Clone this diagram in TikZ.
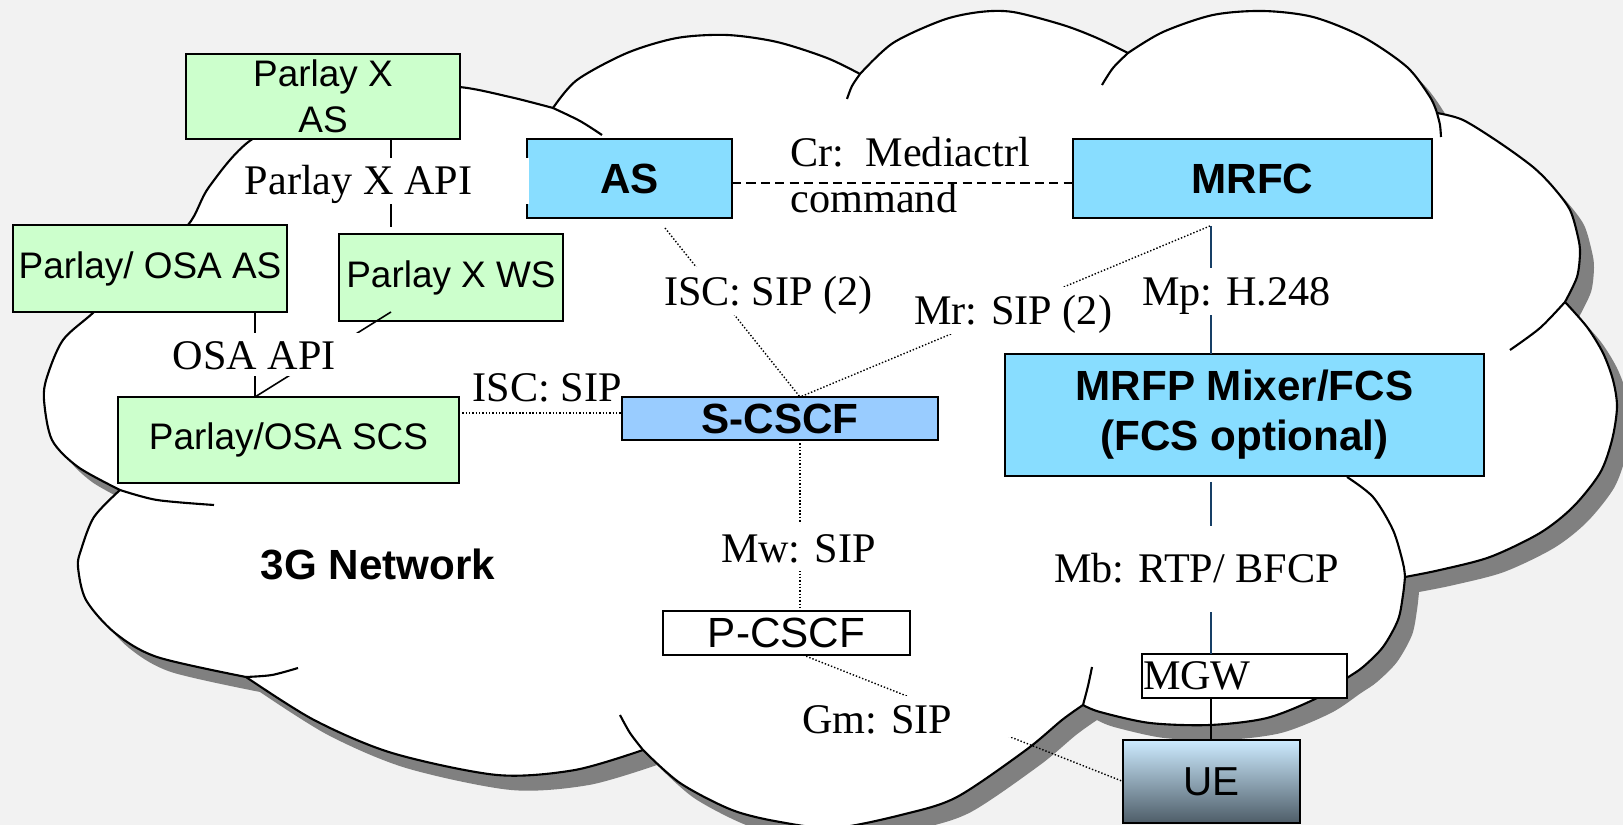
\documentclass[tikz,border=0pt]{standalone}
\usepackage{fontspec}
\setmainfont{Liberation Serif}
\newfontfamily\sansfam{Liberation Sans}
\usetikzlibrary{calc}

\newdimen\px \px=0.01cm

\definecolor{bgpaper}{HTML}{F2F2F2}
\definecolor{pgreen}{HTML}{CCFFCC}
\definecolor{imsblue}{HTML}{88DDFF}
\definecolor{cscfblue}{HTML}{99CCFF}
\definecolor{shadowgray}{HTML}{808080}
\definecolor{navyline}{HTML}{173F66}
\definecolor{uetop}{HTML}{CDEBFF}
\definecolor{uebot}{HTML}{4E5D68}

\newcommand\sansreg{\sansfam\fontsize{10.5}{13.1}\selectfont}
\newcommand\sansbig{\sansfam\fontsize{12}{14.2}\selectfont}
\newcommand\sansbold{\sansfam\bfseries\fontsize{12}{14.2}\selectfont}
\newcommand\seriflbl{\fontsize{12}{12.8}\selectfont}

% text on a white patch: width, height above baseline, depth, left inset, text
\newcommand\lbltext[5]{\makebox[#1\px][l]{\rule[-#3\px]{0pt}{\dimexpr #2\px+#3\px\relax}\hspace{#4\px}#5}}

% outline of the network cloud, lobe by lobe
\newcommand\cloudoutline[1]{%
  \path[#1]
    plot[smooth] coordinates {(140,268) (188,225) (209,187) (251,140) (330,102) (400,88) (459,87) (510,97) (553,108)}
 -- plot[smooth] coordinates {(553,108) (577,80) (627,53) (677,38) (727,35) (777,42) (827,58) (860,74)}
 -- plot[smooth] coordinates {(860,74) (893,43) (943,20) (980,12) (1013,12) (1063,25) (1097,38) (1128,53)}
 -- plot[smooth] coordinates {(1128,53) (1163,32) (1213,15) (1263,11) (1313,17) (1363,37) (1407,67) (1430,97) (1437,113)}
 -- plot[smooth] coordinates {(1437,113) (1463,120) (1500,143) (1533,167) (1553,187) (1570,210) (1578,237) (1580,253) (1577,277) (1565,302)}
 -- plot[smooth] coordinates {(1565,302) (1587,327) (1603,353) (1613,380) (1617,407) (1612,440) (1600,473) (1573,507) (1540,533) (1490,557) (1440,570) (1405,577)}
 -- plot[smooth] coordinates {(1405,577) (1403,595) (1398,620) (1383,647) (1363,667) (1347,678) (1317,698) (1267,718) (1210,725) (1150,723) (1100,712) (1083,705)}
 -- plot[smooth] coordinates {(1083,705) (1062,720) (1026,750) (957,797) (905,814) (835,828) (780,822) (732,810) (680,783) (643,750)}
 -- plot[smooth] coordinates {(643,750) (575,770) (497,775) (392,753) (314,720) (246,677)}
 -- plot[smooth] coordinates {(246,677) (157,657) (115,633) (86,600) (78,567) (81,550) (94,517) (120,490)}
 -- plot[smooth] coordinates {(120,490) (78,467) (52,440) (44,400) (47,377) (63,340) (94,312) (140,268)}
 -- cycle;}

\tikzset{
  cloudline/.style={draw=black, line width=0.6pt, line join=round},
  box/.style={draw=black, line width=0.6pt, inner sep=0pt, outer sep=0pt},
  thinline/.style={draw=black, line width=0.45pt},
  dotline/.style={draw=black, line width=0.4pt, dash pattern=on 0.4pt off 0.55pt},
  dashline/.style={draw=black, line width=0.5pt, dash pattern=on 2.6pt off 1.5pt},
  mline/.style={draw=navyline, line width=0.55pt},
  wlbl/.style={fill=white, inner sep=0pt, outer sep=0pt, anchor=base west, font=\seriflbl},
  plbl/.style={inner sep=0pt, anchor=base west, font=\seriflbl},
}

\begin{document}
\begin{tikzpicture}[x=0.01cm, y=-0.01cm]
\useasboundingbox (0,0) rectangle (1623,825);
\fill[bgpaper] (0,0) rectangle (1623,825);

% cloud with its drop shadow
\cloudoutline{fill=shadowgray, shift={(14,15)}}
\cloudoutline{fill=white, cloudline}

% short inner arcs where the lobes overlap
\draw[cloudline] plot[smooth] coordinates {(553,108) (580,121) (602,135)};
\draw[cloudline] plot[smooth] coordinates {(847,99) (852,86) (860,74)};
\draw[cloudline] plot[smooth] coordinates {(1102,85) (1113,68) (1128,53)};
\draw[cloudline] plot[smooth] coordinates {(1437,113) (1440,125) (1441,137)};
\draw[cloudline] plot[smooth] coordinates {(1565,302) (1540,328) (1510,350)};
\draw[cloudline] plot[smooth] coordinates {(1347,477) (1373,497) (1393,530) (1403,563) (1405,577)};
\draw[cloudline] plot[smooth] coordinates {(1083,705) (1088,686) (1092,667)};
\draw[cloudline] plot[smooth] coordinates {(620,715) (630,733) (643,750)};
\draw[cloudline] plot[smooth] coordinates {(246,677) (272,675) (298,668)};
\draw[cloudline] plot[smooth] coordinates {(120,490) (157,500) (214,505)};

% network elements
\node[box, fill=pgreen, minimum width=274\px, minimum height=85\px, align=center, font=\sansreg] (pxas) at (323,96.5) {Parlay X\\AS};
\node[box, fill=imsblue, minimum width=205\px, minimum height=79\px, font=\sansbold] (as) at (629.5,178.5) {AS};
\node[box, fill=imsblue, minimum width=359\px, minimum height=79\px, font=\sansbold] (mrfc) at (1252.5,178.5) {MRFC};
\node[box, fill=pgreen, minimum width=274\px, minimum height=87\px, font=\sansreg] (posaas) at (150,268.5) {Parlay/ OSA AS};
\node[box, fill=pgreen, minimum width=224\px, minimum height=87\px, font=\sansreg] (pxws) at (451,277.5) {Parlay X WS};
\node[box, fill=pgreen, minimum width=341\px, minimum height=86\px, font=\sansreg] (scs) at (288.5,440) {Parlay/OSA SCS};
\node[box, fill=cscfblue, minimum width=316\px, minimum height=43\px, font=\sansbold] (scscf) at (780,418.5) {S-CSCF};
\node[box, fill=imsblue, minimum width=479\px, minimum height=122\px, align=center, font=\sansbold] (mrfp) at (1244.5,415) {MRFP Mixer/FCS\\(FCS optional)};
\node[box, fill=white, minimum width=247\px, minimum height=44\px, font=\sansbig] (pcscf) at (786.5,633) {P-CSCF};
\node[box, fill=white, minimum width=205\px, minimum height=44\px, font=\seriflbl] (mgw) at (1244.5,676) {\makebox[203\px][l]{MGW}};
\node[box, top color=uetop, bottom color=uebot, minimum width=177\px, minimum height=83\px, font=\sansfam\fontsize{11.5}{13}\selectfont] (ue) at (1211.5,781.5) {UE};

% connector end points
\coordinate (apiEnd) at (391,227);
\coordinate (osaTop) at (255,397);
\coordinate (wsFoot) at (391,312);
\coordinate (iscRow) at (0,413);
\coordinate (crRow) at (0,183);
\coordinate (asFoot) at (665,228);
\coordinate (scTop) at (800,397);
\coordinate (mrfcFoot) at (1210,226);
\coordinate (mpTop) at (1211,226);
\coordinate (mbTop) at (1211,482);
\coordinate (pcFoot) at (803,655);

% interfaces
\draw[thinline] (pxas.south -| apiEnd) -- (apiEnd);
\draw[thinline] (posaas.south -| osaTop) -- (osaTop);
\draw[thinline] (wsFoot) -- (osaTop);
\draw[dotline] (scs.east |- iscRow) -- (scscf.west |- iscRow);
\draw[dashline] (as.east |- crRow) -- (mrfc.west |- crRow);
\draw[dotline] (asFoot) -- (scTop);
\draw[dotline] (mrfcFoot) -- (scTop);
\draw[mline] (mpTop) -- (mrfp.north -| mpTop);
\draw[mline] (mbTop) -- (mgw.north -| mbTop);
\draw[thinline] (mgw.south -| mbTop) -- (ue.north -| mbTop);
\draw[dotline] (scscf.south -| scTop) -- (pcscf.north -| scTop);
\draw[dotline] (pcFoot) -- (ue.west);

% interface labels
\node[wlbl] (lApi) at (240,195) {\lbltext{289}{37}{9}{5}{Parlay X API}};
\node[wlbl] (lOsa) at (165,370) {\lbltext{195}{37}{6}{8}{OSA API}};
\node[wlbl] (lIsc2) at (660,306) {\lbltext{220}{39}{7}{4}{ISC: SIP (2)}};
\node[wlbl] (lMr) at (910,325) {\lbltext{205}{38}{7}{4}{Mr: SIP (2)}};
\node[wlbl] (lMp) at (1138,306) {\lbltext{194}{38}{7}{4}{Mp: H.248}};
\node[wlbl] (lMw) at (717,563) {\lbltext{159}{39}{8}{4}{Mw: SIP}};
\node[wlbl] (lMb) at (1050,583) {\lbltext{295}{57}{29}{4}{Mb: RTP/ BFCP}};
\node[wlbl] (lGm) at (798,734) {\lbltext{214}{38}{3}{4}{Gm: SIP}};
\node[plbl] (lIsc) at (472,402) {ISC: SIP};
\node[plbl] (lCr) at (790,167) {\begin{tabular}[t]{@{}l@{}}Cr:\ \ Mediactrl\\command\end{tabular}};
\node[inner sep=0pt, anchor=base west, font=\sansbold] (net) at (260,580) {3G Network};
\end{tikzpicture}
\end{document}
